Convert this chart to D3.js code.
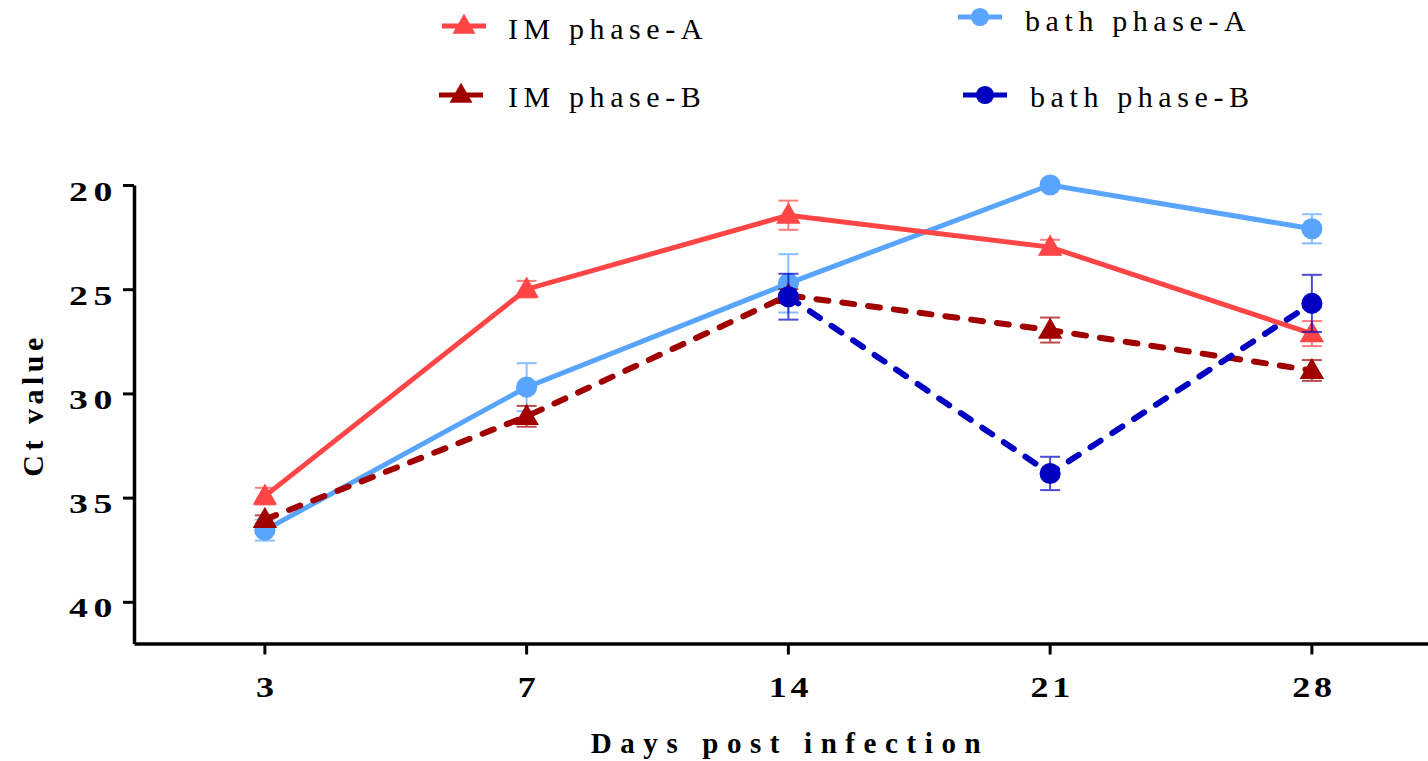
<!DOCTYPE html>
<html>
<head>
<meta charset="utf-8">
<script src="https://cdn.jsdelivr.net/npm/d3@7"></script>
<style>
  body { margin: 0; background: #fff; }
  svg { display: block; }
</style>
</head>
<body>
<div id="chart"></div>
<script>
// days post infection (categories)
let days = ["3", "7", "14", "21", "28"];
let yTicks = [20, 25, 30, 35, 40];

// mean Ct values and error
let imPhaseA = [34.93, 25.0, 21.45, 22.98, 27.13];
let imPhaseAErr = [0.4, 0.4, 0.7, 0.35, 0.6];
let imPhaseB = [36.05, 31.1, 25.3, 26.96, 28.9];
let imPhaseBErr = [0.2, 0.5, 0.3, 0.6, 0.5];
let bathPhaseA = [36.56, 29.7, 24.72, 20.0, 22.1];
let bathPhaseAErr = [0.5, 1.15, 1.4, 0.1, 0.7];
let bathPhaseB = [null, null, 25.36, 33.84, 25.68];
let bathPhaseBErr = [null, null, 1.1, 0.8, 1.37];

let seriesNames = ["IM phase-A", "IM phase-B", "bath phase-A", "bath phase-B"];

function drawChart() {
  let svgWidth = 1428;
  let svgHeight = 761;
  let serif = "Liberation Serif, Times New Roman, serif";

  let svg = d3.select("#chart").append("svg")
    .attr("width", svgWidth)
    .attr("height", svgHeight)
    .attr("font-family", serif);

  // scales
  let xScale = d3.scaleBand()
    .domain(days)
    .range([134, 134 + 5 * 261.75])
    .padding(0);

  let yScale = d3.scaleLinear()
    .domain([20, 42])
    .range([185, 643.5]);

  let xPos = function(d) { return xScale(d) + xScale.bandwidth() / 2; };

  // y axis
  let yAxis = svg.append("g")
    .attr("transform", "translate(134,0)")
    .call(d3.axisLeft(yScale).tickValues(yTicks).tickSize(11).tickSizeOuter(0));

  yAxis.attr("font-family", serif);
  yAxis.select(".domain").attr("stroke-width", 3.5);
  yAxis.selectAll(".tick line").attr("stroke-width", 3);
  yAxis.selectAll(".tick text")
    .attr("x", 0)
    .attr("dy", null)
    .attr("y", 0)
    .attr("text-anchor", "end")
    .attr("transform", "translate(-16,15) scale(1.4,1)")
    .style("font-size", "27px")
    .style("font-weight", "bold")
    .style("letter-spacing", "4px");

  // x axis
  let xAxis = svg.append("g")
    .attr("transform", "translate(0,643.5)")
    .call(d3.axisBottom(xScale).tickSize(11).tickSizeOuter(0));

  xAxis.attr("font-family", serif);
  xAxis.select(".domain").attr("stroke-width", 3.5);
  xAxis.selectAll(".tick line").attr("stroke-width", 3);
  xAxis.selectAll(".tick text")
    .attr("y", 0)
    .attr("dy", null)
    .attr("transform", "translate(2,53) scale(1.2,1)")
    .style("font-size", "30px")
    .style("font-weight", "bold")
    .style("letter-spacing", "3px");

  // axis titles
  svg.append("text")
    .attr("x", 790)
    .attr("y", 753)
    .attr("text-anchor", "middle")
    .style("font-size", "29px")
    .style("font-weight", "bold")
    .style("letter-spacing", "8.6px")
    .text("Days post infection");

  svg.append("text")
    .attr("transform", "translate(43,405) rotate(-90)")
    .attr("text-anchor", "middle")
    .style("font-size", "30px")
    .style("font-weight", "bold")
    .style("letter-spacing", "4.5px")
    .text("Ct value");

  let series = [
    { name: seriesNames[2], values: bathPhaseA, err: bathPhaseAErr, color: "#58a4ff", dash: null, shape: d3.symbolCircle },
    { name: seriesNames[0], values: imPhaseA, err: imPhaseAErr, color: "#ff4545", dash: null, shape: d3.symbolTriangle },
    { name: seriesNames[1], values: imPhaseB, err: imPhaseBErr, color: "#a00000", dash: "12,14", shape: d3.symbolTriangle },
    { name: seriesNames[3], values: bathPhaseB, err: bathPhaseBErr, color: "#0000c0", dash: "12,14", shape: d3.symbolCircle }
  ];

  let line = d3.line()
    .defined(function(d) { return d.v !== null; })
    .x(function(d) { return xPos(d.day); })
    .y(function(d) { return yScale(d.v); });

  series.forEach(function(s) {
    let pts = days.map(function(day, i) { return { day: day, v: s.values[i], e: s.err[i] }; })
      .filter(function(d) { return d.v !== null; });

    let g = svg.append("g");

    // error bars
    let eb = g.selectAll(".err")
      .data(pts)
      .enter()
      .append("g")
      .attr("stroke", s.color)
      .attr("stroke-width", 2)
      .attr("opacity", 0.7);

    eb.append("line")
      .attr("x1", function(d) { return xPos(d.day); })
      .attr("x2", function(d) { return xPos(d.day); })
      .attr("y1", function(d) { return yScale(d.v - d.e); })
      .attr("y2", function(d) { return yScale(d.v + d.e); });
    eb.append("line")
      .attr("x1", function(d) { return xPos(d.day) - 10; })
      .attr("x2", function(d) { return xPos(d.day) + 10; })
      .attr("y1", function(d) { return yScale(d.v - d.e); })
      .attr("y2", function(d) { return yScale(d.v - d.e); });
    eb.append("line")
      .attr("x1", function(d) { return xPos(d.day) - 10; })
      .attr("x2", function(d) { return xPos(d.day) + 10; })
      .attr("y1", function(d) { return yScale(d.v + d.e); })
      .attr("y2", function(d) { return yScale(d.v + d.e); });

    // line
    g.append("path")
      .datum(pts)
      .attr("fill", "none")
      .attr("stroke", s.color)
      .attr("stroke-width", s.dash ? 6 : 5)
      .attr("stroke-linecap", s.dash ? "round" : "butt")
      .attr("stroke-dasharray", s.dash)
      .attr("d", line);

    // markers
    let size = s.shape === d3.symbolCircle ? 350 : 260;
    g.selectAll(".mark")
      .data(pts)
      .enter()
      .append("path")
      .attr("d", d3.symbol().type(s.shape).size(size))
      .attr("transform", function(d) { return "translate(" + xPos(d.day) + "," + (yScale(d.v) + (s.shape === d3.symbolTriangle ? 1.5 : 0)) + ")"; })
      .attr("fill", s.color);
  });

  // legend
  let legendItems = [
    { s: series[1], lx: 442, ly: 26, tx: 508, ty: 39 },
    { s: series[2], lx: 439, ly: 95, tx: 508, ty: 107 },
    { s: series[0], lx: 958, ly: 17, tx: 1025, ty: 31 },
    { s: series[3], lx: 963, ly: 95, tx: 1030, ty: 107 }
  ];

  legendItems.forEach(function(item) {
    let lg = svg.append("g");
    lg.append("line")
      .attr("x1", item.lx)
      .attr("x2", item.lx + 44)
      .attr("y1", item.ly)
      .attr("y2", item.ly)
      .attr("stroke", item.s.color)
      .attr("stroke-width", 5);
    let size = item.s.shape === d3.symbolCircle ? 260 : 230;
    lg.append("path")
      .attr("d", d3.symbol().type(item.s.shape).size(size))
      .attr("transform", "translate(" + (item.lx + 22) + "," + (item.ly + (item.s.shape === d3.symbolTriangle ? 1 : 0)) + ")")
      .attr("fill", item.s.color);
    lg.append("text")
      .attr("x", item.tx)
      .attr("y", item.ty)
      .style("font-size", "30px")
      .style("letter-spacing", "5.6px")
      .text(item.s.name);
  });
}

drawChart();
</script>
</body>
</html>
